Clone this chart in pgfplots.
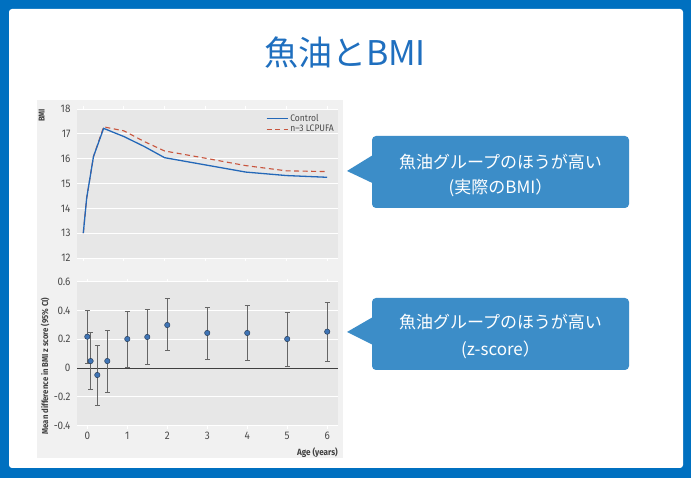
\documentclass[border=0pt]{standalone}
\usepackage{pgfplots}
\pgfplotsset{compat=1.18}
\usepackage{fontspec}
\setmainfont{Fira Sans}
\newfontfamily\jp{Noto Sans CJK JP}
\newfontfamily\cond[FakeStretch=0.9]{Fira Sans}
\definecolor{frameblue}{HTML}{0070C0}
\definecolor{titleblue}{HTML}{1F6FBF}
\definecolor{callout}{HTML}{3C8DC8}
\definecolor{chartbg}{HTML}{F1F1F1}
\definecolor{plotbg}{HTML}{E7E7E7}
\definecolor{lblgray}{HTML}{4A4A4A}
\definecolor{ctrlblue}{HTML}{2468B8}
\definecolor{n3red}{HTML}{C8553D}
\definecolor{ptblue}{HTML}{3F74B5}
\definecolor{ptdark}{HTML}{2A3F5A}

\pgfplotstableread{
x     y      ep     em
0     0.218  0.182  0.188
0.083 0.049  0.197  0.197
0.25  -0.048 0.204  0.208
0.5   0.049  0.213  0.220
1     0.202  0.190  0.195
1.5   0.216  0.190  0.190
2     0.299  0.183  0.176
3     0.244  0.178  0.181
4     0.244  0.189  0.188
5     0.202  0.185  0.188
6     0.253  0.201  0.204
}\zscore

\pgfplotsset{
  panel/.style={
    scale only axis,
    anchor=south west,
    axis background/.style={fill=plotbg},
    axis line style={draw=none},
    ymajorgrids,
    grid style={white, line width=0.9pt},
    tick align=outside,
    major tick length=3pt,
    xtick style={white, line width=0.9pt},
    ytick style={draw=none},
    xtick={0,...,6},
    tick label style={font=\cond\fontsize{11}{12}\selectfont, text=lblgray},
    /pgf/number format/assume math mode=true,
  },
}

\begin{document}
\begin{tikzpicture}[x=1pt,y=1pt]
\useasboundingbox (0,0) rectangle (691,478);
\fill[frameblue] (0,0) rectangle (691,478);
\fill[white, rounded corners=3pt] (9,10) rectangle (683,469);
\node[text=titleblue, font=\jp\fontsize{34}{34}\selectfont] at (345,425) {魚油とBMI};

% chart backdrop
\fill[chartbg] (37,20) rectangle (343,378);

% top panel: BMI
\begin{axis}[panel,
  at={(77pt,220pt)}, width=261pt, height=149pt,
  xmin=-0.155, xmax=6.27, ymin=12, ymax=18,
  ytick={12,...,18}, xticklabels={},
  legend style={at={(1,1)}, anchor=north east, draw=none, fill=none,
    font=\cond\fontsize{9.5}{10}\selectfont, text=lblgray,
    row sep=-1.5pt, inner xsep=1pt, xshift=-1pt, yshift=-1pt},
  legend cell align=left,
  legend image code/.code={\draw[#1] (0pt,0pt) -- (21pt,0pt);},
  reverse legend,
]
\addplot[n3red, line width=1.1pt, dash pattern=on 5pt off 3.5pt] coordinates {
  (0,13.0) (0.083,14.41) (0.25,16.08) (0.5,17.28) (1,17.12) (1.5,16.69)
  (2,16.31) (3,16.02) (4,15.72) (5,15.51) (6,15.48)};
\addlegendentry{n\textendash3 LCPUFA}
\addplot[ctrlblue, line width=1.3pt] coordinates {
  (0,13.0) (0.083,14.41) (0.25,16.08) (0.5,17.22) (1,16.89) (1.5,16.49)
  (2,16.04) (3,15.75) (4,15.46) (5,15.32) (6,15.25)};
\addlegendentry{Control}
\end{axis}

% bottom panel: z score
\begin{axis}[panel,
  at={(77pt,52.3pt)}, width=261pt, height=144pt,
  xmin=-0.2575, xmax=6.27, ymin=-0.4, ymax=0.6,
  ytick={-0.4,-0.2,0,0.2,0.4,0.6},
  yticklabels={-0.4,-0.2,0,0.2,0.4,0.6},
]
\draw[black!75, line width=0.9pt] (axis cs:-0.2575,0) -- (axis cs:6.27,0);
\addplot[only marks, mark=*, mark size=2.7pt,
  mark options={fill=ptblue, draw=ptdark, line width=0.5pt},
  error bars/.cd, y dir=both, y explicit,
  error bar style={black!60, line width=0.9pt},
  error mark options={rotate=90, mark size=2.5pt, black!60, line width=0.9pt}]
  table[x=x, y=y, y error plus=ep, y error minus=em] {\zscore};
\end{axis}

% axis titles
\node[rotate=90, font=\cond\bfseries\fontsize{8.5}{8}\selectfont, text=black!75] at (41.7,362.5) {BMI};
\node[rotate=90, font=\cond\bfseries\fontsize{8.6}{9}\selectfont, text=black!75] at (45,112) {Mean difference in BMI z score (95\% CI)};
\node[anchor=east, inner sep=0pt, font=\cond\bfseries\fontsize{9}{9}\selectfont, text=black!75] at (338,25.3) {Age (years)};

% callouts
\fill[callout, rounded corners=4pt] (372,270) rectangle (629,342);
\fill[callout] (347,307) -- (373,323) -- (373,294.7) -- cycle;
\node[text=white, font=\jp\fontsize{17}{17}\selectfont] at (500.5,316) {魚油グループのほうが高い};
\node[text=white, font=\jp\fontsize{17}{17}\selectfont] at (500.5,290) {(実際のBMI）};

\fill[callout, rounded corners=4pt] (372,108) rectangle (629,180);
\fill[callout] (347,146) -- (373,161) -- (373,133) -- cycle;
\node[text=white, font=\jp\fontsize{17}{17}\selectfont] at (500.5,156) {魚油グループのほうが高い};
\node[text=white, font=\jp\fontsize{17}{17}\selectfont] at (500.5,128) {(z-score）};
\end{tikzpicture}
\end{document}
